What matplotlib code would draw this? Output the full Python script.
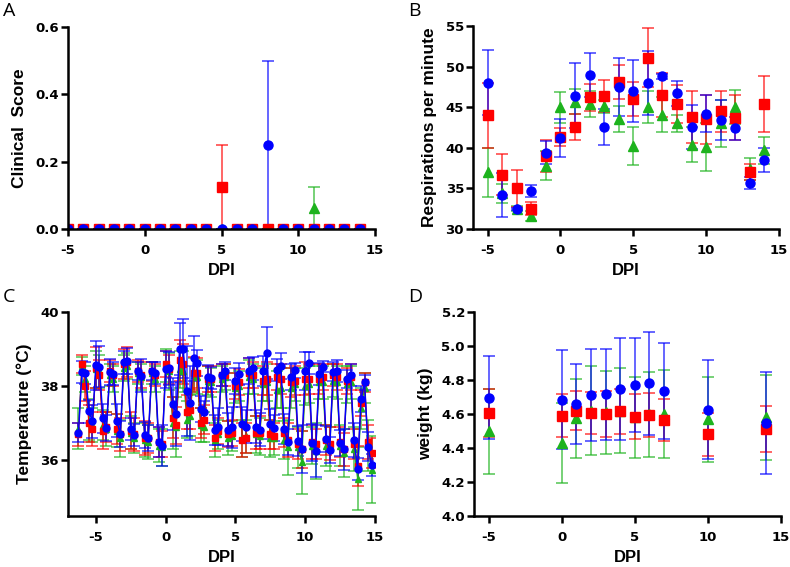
import numpy as np
import matplotlib
matplotlib.use("Agg")
import matplotlib.pyplot as plt
from matplotlib.colors import to_rgba

plt.rcParams['font.family'] = ['Liberation Sans', 'DejaVu Sans']
plt.rcParams['font.weight'] = 'bold'

RED = '#FF0000'
BLUE = '#0000FF'
GREEN = '#1DB31D'

# ---------------- Panel A: clinical score ----------------
a_x = [-5, -4, -3, -2, -1, 0, 1, 2, 3, 4, 5, 6, 7, 8, 9, 10, 11, 12, 13, 14]
a_red = [0, 0, 0, 0, 0, 0, 0, 0, 0, 0, 0.125, 0, 0, 0, 0, 0, 0, 0, 0, 0]
a_red_err = [0, 0, 0, 0, 0, 0, 0, 0, 0, 0, 0.125, 0, 0, 0, 0, 0, 0, 0, 0, 0]
a_blue = [0, 0, 0, 0, 0, 0, 0, 0, 0, 0, 0, 0, 0, 0.25, 0, 0, 0, 0, 0, 0]
a_blue_err = [0, 0, 0, 0, 0, 0, 0, 0, 0, 0, 0, 0, 0, 0.25, 0, 0, 0, 0, 0, 0]
a_green = [0, 0, 0, 0, 0, 0, 0, 0, 0, 0, 0, 0, 0, 0, 0, 0, 0.0625, 0, 0, 0]
a_green_err = [0, 0, 0, 0, 0, 0, 0, 0, 0, 0, 0, 0, 0, 0, 0, 0, 0.0625, 0, 0, 0]

# ---------------- Panel B: respiration ----------------
b_x = [-5, -4, -3, -2, -1, 0, 1, 2, 3, 4, 5, 6, 7, 8, 9, 10, 11, 12, 13, 14]
b_blue = [48.0, 34.2, 32.5, 34.7, 39.4, 41.2, 46.4, 49.0, 42.6, 47.5, 47.0, 48.0, 48.8, 46.7, 42.6, 44.2, 43.4, 42.4, 35.7, 38.5]
b_blue_err = [4.0, 2.7, 0.1, 0.75, 1.4, 2.35, 4.0, 2.7, 2.2, 3.6, 3.8, 3.9, 0.3, 1.5, 2.7, 2.3, 2.5, 1.4, 0.75, 1.5]
b_red = [44.0, 36.7, 35.0, 32.5, 39.0, 41.3, 42.6, 46.2, 46.4, 48.1, 46.0, 51.1, 46.5, 45.4, 43.8, 43.5, 44.5, 43.7, 37.0, 45.4]
b_red_err = [4.0, 2.5, 2.3, 0.8, 2.0, 1.1, 1.6, 1.7, 2.0, 2.1, 2.1, 3.6, 2.7, 2.3, 3.2, 3.0, 2.5, 2.8, 1.0, 3.4]
b_green = [37.0, 34.4, 32.5, 31.6, 37.8, 45.0, 45.7, 45.4, 45.1, 43.6, 40.2, 45.0, 44.1, 43.0, 40.4, 40.1, 43.0, 45.0, 37.4, 39.7]
b_green_err = [3.0, 1.2, 0.3, 0.6, 1.8, 1.9, 1.55, 1.6, 0.8, 1.6, 2.3, 1.95, 2.2, 1.0, 2.1, 2.9, 2.9, 2.1, 1.4, 1.65]

# ---------------- Panel C: temperature ----------------
c_x = np.arange(-6.25, 14.76, 0.25)
c_blue = [36.75, 38.39, 38.35, 37.32, 37.05,
          38.56, 38.52, 37.13, 36.86,
          38.39, 38.34, 37.07, 36.71,
          38.64, 38.69, 36.84, 36.68,
          38.41, 38.28, 36.68, 36.59,
          38.41, 38.35, 36.50, 36.39,
          38.46, 38.48, 37.52, 37.25,
          39.01, 39.01, 37.87, 37.54,
          38.75, 38.62, 37.38, 37.31,
          38.26, 38.23, 36.82, 36.91,
          38.30, 38.41, 36.83, 36.89,
          38.13, 38.32, 36.98, 36.91,
          38.41, 38.48, 36.91, 36.83,
          38.41, 38.89, 36.98, 36.87,
          38.44, 38.55, 36.84, 36.50,
          38.26, 38.43, 36.53, 36.30,
          38.41, 38.62, 36.48, 36.26,
          38.32, 38.53, 36.57, 36.28,
          38.39, 38.40, 36.48, 36.30,
          38.19, 38.30, 36.55, 35.77,
          37.65, 38.10, 36.37, 35.87]
c_blue_err = [0.25, 0.30, 0.30, 0.30, 0.45,
              0.65, 0.55, 0.40, 0.35,
              0.35, 0.30, 0.45, 0.35,
              0.30, 0.35, 0.30, 0.30,
              0.25, 0.45, 0.35, 0.35,
              0.25, 0.30, 0.40, 0.55,
              0.50, 0.45, 0.70, 0.85,
              0.70, 0.80, 1.20, 1.00,
              0.60, 0.35, 0.35, 0.30,
              0.30, 0.30, 0.40, 0.50,
              0.30, 0.25, 0.45, 0.55,
              0.35, 0.30, 0.45, 0.45,
              0.35, 0.30, 0.45, 0.45,
              0.40, 0.70, 0.40, 0.35,
              0.30, 0.35, 0.40, 0.35,
              0.35, 0.20, 0.40, 0.65,
              0.50, 0.30, 0.50, 0.70,
              0.30, 0.15, 0.35, 0.35,
              0.25, 0.30, 0.35, 0.55,
              0.25, 0.30, 0.45, 0.30,
              0.35, 0.20, 0.40, 0.30]
c_red = [36.70, 38.60, 38.00, 37.00, 36.85,
         38.50, 38.30, 36.80, 36.90,
         38.40, 38.30, 36.85, 36.70,
         38.60, 38.65, 36.80, 36.70,
         38.40, 38.30, 36.60, 36.60,
         38.40, 38.30, 36.50, 36.45,
         38.60, 38.45, 37.15, 36.95,
         38.70, 38.60, 37.30, 37.35,
         38.35, 38.35, 37.00, 37.10,
         38.20, 38.20, 36.60, 36.80,
         38.30, 38.30, 36.70, 36.75,
         38.00, 38.10, 36.55, 36.60,
         38.35, 38.30, 36.75, 36.75,
         38.15, 38.20, 36.70, 36.65,
         38.25, 38.20, 36.75, 36.55,
         38.10, 38.15, 36.45, 36.30,
         38.20, 38.20, 36.50, 36.45,
         38.20, 38.25, 36.55, 36.45,
         38.30, 38.25, 36.50, 36.30,
         38.15, 38.25, 36.45, 35.85,
         37.55, 38.10, 36.50, 36.20]
c_red_err = [0.30, 0.25, 0.40, 0.50, 0.45,
             0.55, 0.40, 0.50, 0.40,
             0.30, 0.30, 0.40, 0.45,
             0.40, 0.40, 0.50, 0.45,
             0.30, 0.35, 0.45, 0.40,
             0.25, 0.30, 0.40, 0.35,
             0.35, 0.40, 0.55, 0.50,
             0.55, 0.55, 0.45, 0.50,
             0.45, 0.40, 0.40, 0.40,
             0.35, 0.35, 0.35, 0.35,
             0.30, 0.30, 0.35, 0.35,
             0.35, 0.35, 0.45, 0.40,
             0.40, 0.35, 0.45, 0.45,
             0.40, 0.45, 0.40, 0.35,
             0.35, 0.40, 0.40, 0.45,
             0.40, 0.40, 0.40, 0.50,
             0.45, 0.40, 0.45, 0.40,
             0.40, 0.35, 0.40, 0.45,
             0.30, 0.35, 0.40, 0.45,
             0.35, 0.35, 0.40, 0.55,
             0.35, 0.25, 0.45, 0.40]
c_green = [36.85, 38.55, 38.20, 37.10, 36.95,
           38.45, 38.40, 36.95, 36.85,
           38.30, 38.20, 36.80, 36.60,
           38.50, 38.55, 36.75, 36.60,
           38.35, 38.25, 36.55, 36.50,
           38.35, 38.20, 36.40, 36.35,
           38.55, 38.40, 37.00, 36.90,
           38.45, 38.40, 37.10, 37.20,
           38.30, 38.25, 36.95, 36.90,
           38.15, 38.10, 36.55, 36.70,
           38.20, 38.25, 36.60, 36.65,
           37.95, 38.00, 36.60, 36.65,
           38.25, 38.20, 36.70, 36.65,
           38.05, 38.10, 36.60, 36.60,
           37.90, 37.95, 36.55, 36.35,
           37.95, 38.05, 36.35, 35.95,
           38.00, 38.05, 36.40, 36.25,
           38.10, 38.10, 36.40, 36.30,
           38.15, 38.10, 36.40, 36.20,
           38.05, 38.10, 36.30, 35.50,
           37.40, 37.95, 36.40, 35.75]
c_green_err = [0.55, 0.25, 0.35, 0.55, 0.45,
               0.50, 0.45, 0.40, 0.45,
               0.30, 0.35, 0.45, 0.50,
               0.35, 0.35, 0.45, 0.40,
               0.30, 0.35, 0.45, 0.45,
               0.30, 0.35, 0.45, 0.50,
               0.45, 0.50, 0.70, 0.80,
               0.50, 0.55, 0.50, 0.55,
               0.45, 0.45, 0.45, 0.40,
               0.40, 0.40, 0.45, 0.40,
               0.35, 0.35, 0.45, 0.40,
               0.40, 0.40, 0.50, 0.45,
               0.45, 0.40, 0.50, 0.50,
               0.45, 0.50, 0.50, 0.45,
               0.50, 0.55, 0.50, 0.75,
               0.55, 0.45, 0.55, 0.85,
               0.50, 0.50, 0.50, 0.75,
               0.45, 0.45, 0.55, 0.60,
               0.45, 0.45, 0.55, 0.65,
               0.50, 0.45, 0.60, 0.85,
               0.55, 0.40, 0.70, 0.90]

# ---------------- Panel D: weight ----------------
d_x = [-5, 0, 1, 2, 3, 4, 5, 6, 7, 10, 14]
d_blue = [4.696, 4.685, 4.66, 4.71, 4.715, 4.745, 4.77, 4.78, 4.735, 4.625, 4.55]
d_blue_err = [0.245, 0.29, 0.235, 0.27, 0.265, 0.30, 0.275, 0.305, 0.28, 0.29, 0.30]
d_red = [4.605, 4.59, 4.62, 4.605, 4.60, 4.615, 4.585, 4.595, 4.565, 4.48, 4.51]
d_red_err = [0.14, 0.125, 0.113, 0.125, 0.138, 0.13, 0.13, 0.128, 0.123, 0.125, 0.135]
d_green = [4.50, 4.43, 4.575, 4.62, 4.61, 4.62, 4.58, 4.60, 4.60, 4.57, 4.58]
d_green_err = [0.25, 0.235, 0.233, 0.26, 0.245, 0.25, 0.24, 0.25, 0.257, 0.25, 0.25]

W, H = 790, 567
fig = plt.figure(figsize=(W / 100, H / 100), dpi=100)

TICK_FONT = ['DejaVu Sans']


def make_ax(l, r, t, b):
    return fig.add_axes([l / W, 1 - b / H, (r - l) / W, (b - t) / H])


def style(ax, xlim, ylim, yticks, ylabel, yfmt):
    ax.set_xlim(*xlim)
    ax.set_ylim(*ylim)
    ax.set_xticks([-5, 0, 5, 10, 15])
    ax.set_xticklabels(['-5', '0', '5', '10', '15'])
    ax.set_yticks(yticks)
    ax.set_yticklabels([yfmt.format(v) for v in yticks])
    for s in ['top', 'right']:
        ax.spines[s].set_visible(False)
    for s in ['left', 'bottom']:
        ax.spines[s].set_linewidth(1.8)
        ax.spines[s].set_zorder(10)
    ax.tick_params(direction='out', length=5, width=1.8)
    ax.tick_params(axis='x', pad=6)
    ax.tick_params(axis='y', pad=1.5)
    for lab in ax.get_xticklabels() + ax.get_yticklabels():
        lab.set_fontweight('bold')
        lab.set_family(TICK_FONT)
        lab.set_fontsize(9.5)
    ax.set_xlabel('DPI', fontsize=12, fontweight='bold', labelpad=4)
    ax.set_ylabel(ylabel, fontsize=12.5, fontweight='bold', labelpad=6)
    ax.patch.set_alpha(0)


def series(ax, x, y, e, color, marker, ms, line=False, lw=1.0):
    ax.errorbar(x, y, yerr=e, fmt=marker, color=color, ms=ms,
                ecolor=to_rgba(color, 0.7), elinewidth=1.2, capsize=4, capthick=1.2,
                linestyle='-' if line else 'none', lw=lw, zorder=3)


def letter(ax_x, ax_y, s):
    fig.text(ax_x / W, 1 - ax_y / H, s, fontsize=14, fontweight='normal',
             family='Open Sans', ha='left', va='center')


# Panel A
axA = make_ax(68, 375, 27, 229)
for x, y, e, c, m, ms in [(a_x, a_green, a_green_err, GREEN, '^', 6.5),
                          (a_x, a_red, a_red_err, RED, 's', 6.5),
                          (a_x, a_blue, a_blue_err, BLUE, 'o', 6.5)]:
    series(axA, x, y, e, c, m, ms)
style(axA, (-5, 15), (0, 0.6), [0.0, 0.2, 0.4, 0.6], 'Clinical  Score', '{:.1f}')
letter(3, 11, 'A')

# Panel B
axB = make_ax(473, 779, 26, 229)
for x, y, e, c, m, ms in [(b_x, b_green, b_green_err, GREEN, '^', 6.5),
                          (b_x, b_red, b_red_err, RED, 's', 6.5),
                          (b_x, b_blue, b_blue_err, BLUE, 'o', 6.5)]:
    series(axB, x, y, e, c, m, ms)
style(axB, (-6, 15), (30, 55), [30, 35, 40, 45, 50, 55], 'Respirations per minute', '{:d}')
letter(408, 11, 'B')

# Panel C
axC = make_ax(68, 375, 312, 516)
for x, y, e, c, m, ms, lw in [(c_x, c_green, c_green_err, GREEN, '^', 5, 0.8),
                              (c_x, c_red, c_red_err, RED, 's', 5, 0.8),
                              (c_x, c_blue, c_blue_err, BLUE, 'o', 5, 1.1)]:
    series(axC, x, y, e, c, m, ms, line=True, lw=lw)
style(axC, (-7, 15), (34.5, 40), [36, 38, 40], 'Temperature (°C)', '{:d}')
letter(3, 297, 'C')

# Panel D
axD = make_ax(474, 781, 312, 516)
for x, y, e, c, m, ms in [(d_x, d_green, d_green_err, GREEN, '^', 6.5),
                          (d_x, d_red, d_red_err, RED, 's', 6.5),
                          (d_x, d_blue, d_blue_err, BLUE, 'o', 6.5)]:
    series(axD, x, y, e, c, m, ms)
style(axD, (-6, 15), (4.0, 5.2), [4.0, 4.2, 4.4, 4.6, 4.8, 5.0, 5.2], 'weight (kg)', '{:.1f}')
letter(408, 297, 'D')

fig.savefig('out.png', dpi=100)
